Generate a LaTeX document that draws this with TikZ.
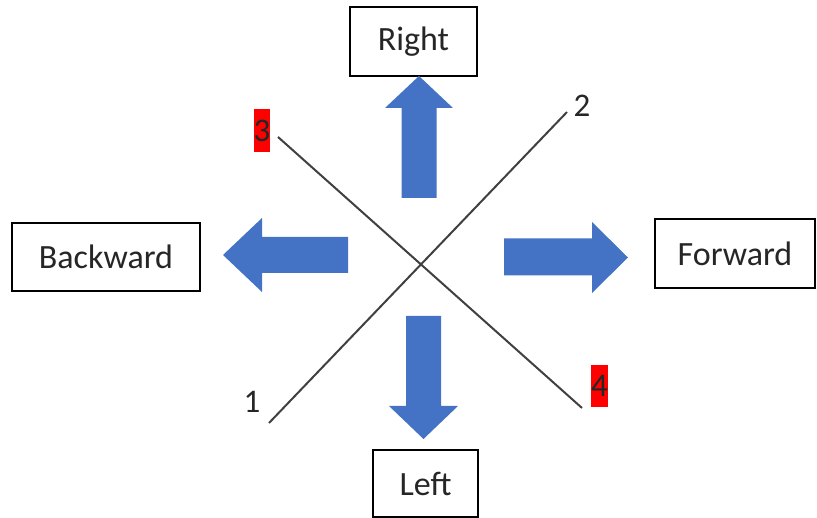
\documentclass[tikz,border=0pt]{standalone}
\usepackage{fontspec}
\setmainfont{Carlito}
\definecolor{arrowblue}{HTML}{4472C4}
\definecolor{linegray}{HTML}{404040}
\definecolor{textdark}{HTML}{262626}
\begin{document}
\begin{tikzpicture}[x=1pt,y=-1pt,
  label box/.style={draw=black, line width=1.8pt, fill=white, inner sep=0pt,
    font=\fontsize{34}{38}\selectfont, text=textdark},
  num/.style={inner sep=0pt, font=\fontsize{33}{38}\selectfont, text=textdark},
  hilite/.style={num, fill=red, minimum width=16pt, minimum height=43pt},
  axis line/.style={draw=linegray, line width=2pt},
  block arrow/.style={fill=arrowblue}]
\useasboundingbox (0,0) rectangle (817,518);

% direction boxes (text sits a little left of centre)
\node[label box, minimum width=127pt, minimum height=69pt] (right) at (413.5,41.5) {Right\hspace{9pt}};
\node[label box, minimum width=188pt, minimum height=68pt] (backward) at (106,257) {Backward\hspace{10pt}};
\node[label box, minimum width=160pt, minimum height=69pt] (forward) at (735,253.5) {Forward\hspace{3pt}};
\node[label box, minimum width=105pt, minimum height=67pt] (left) at (425.5,483.5) {Left\hspace{8pt}};

% crossing lines and their end labels
\coordinate (p1) at (269,423);
\coordinate (p2) at (567,112);
\coordinate (p3) at (278,137);
\coordinate (p4) at (582,408);
\draw[axis line] (p1) -- (p2);
\draw[axis line] (p3) -- (p4);
\node[num] (n1) at (252,402) {1};
\node[num] (n2) at (582,106) {2};
\node[hilite] (n3) at (262,130.5) {3};
\node[hilite, minimum width=17pt, minimum height=42pt] (n4) at (599.5,386) {4};

% block arrows
\fill[block arrow] (419,76) -- (453,108) -- (436.5,108) -- (436.5,198)
  -- (401.5,198) -- (401.5,108) -- (385,108) -- cycle;
\fill[block arrow] (223,255) -- (262,218) -- (262,237) -- (348,237)
  -- (348,273) -- (262,273) -- (262,292) -- cycle;
\fill[block arrow] (628,257.5) -- (592,222) -- (592,238.5) -- (504,238.5)
  -- (504,275.5) -- (592,275.5) -- (592,293) -- cycle;
\fill[block arrow] (423.5,439) -- (389,406) -- (406,406) -- (406,316)
  -- (441,316) -- (441,406) -- (458,406) -- cycle;
\end{tikzpicture}
\end{document}
